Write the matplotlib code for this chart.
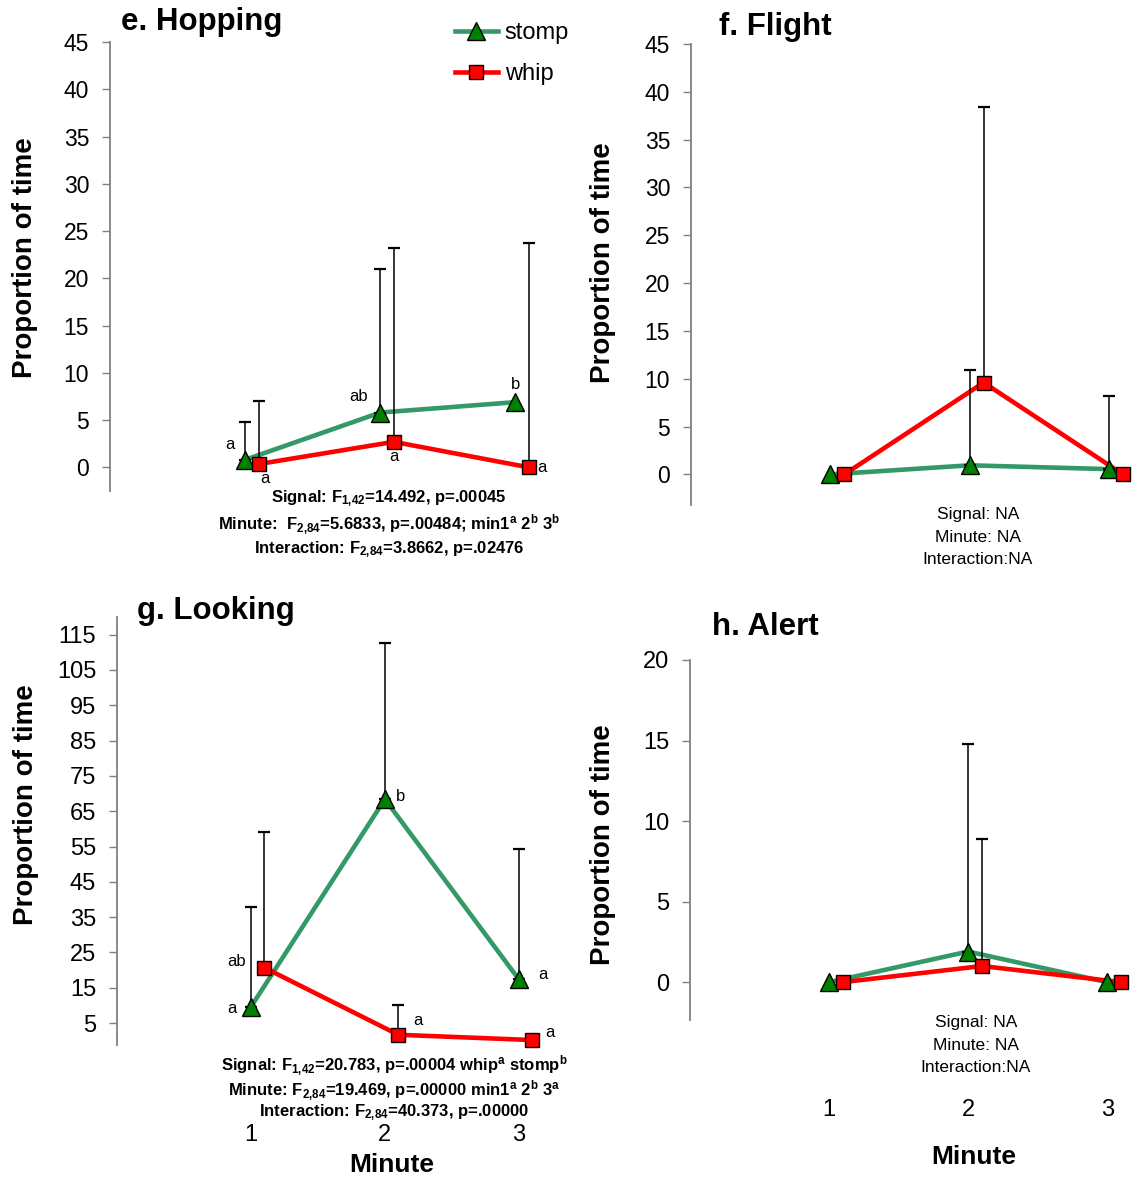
import numpy as np
import matplotlib
matplotlib.use('Agg')
import matplotlib.pyplot as plt
from matplotlib.lines import Line2D

plt.rcParams['font.family'] = ['Liberation Sans', 'DejaVu Sans']
plt.rcParams['mathtext.default'] = 'regular'

W, H = 1132, 1177

minutes = np.array([1, 2, 3])
whip_shift = 0.1

# e. Hopping
hop_stomp = [0.8, 5.8, 6.9]
hop_stomp_err = [4.0, 15.2, 0.0]
hop_whip = [0.35, 2.7, 0.0]
hop_whip_err = [6.65, 20.5, 23.7]
hop_stomp_letters = ['a', 'ab', 'b']
hop_whip_letters = ['a', 'a', 'a']
hop_stats = ["Signal: F$_{1{,}42}$=14.492, p=.00045",
             "Minute:  F$_{2{,}84}$=5.6833, p=.00484; min1$^{a}$ 2$^{b}$ 3$^{b}$",
             "Interaction: F$_{2{,}84}$=3.8662, p=.02476"]

# f. Flight
fli_stomp = [0.0, 0.95, 0.55]
fli_stomp_err = [0.0, 9.95, 7.65]
fli_whip = [0.0, 9.6, 0.0]
fli_whip_err = [0.0, 28.8, 0.0]
fli_stats = ["Signal: NA", "Minute: NA", "Interaction:NA"]

# g. Looking
look_stomp = [9.6, 68.4, 17.4]
look_stomp_err = [28.4, 44.1, 36.9]
look_whip = [20.7, 1.7, 0.2]
look_whip_err = [38.4, 8.5, 0.0]
look_stomp_letters = ['a', 'b', 'a']
look_whip_letters = ['ab', 'a', 'a']
look_stats = ["Signal: F$_{1{,}42}$=20.783, p=.00004 whip$^{a}$ stomp$^{b}$",
              "Minute: F$_{2{,}84}$=19.469, p=.00000 min1$^{a}$ 2$^{b}$ 3$^{a}$",
              "Interaction: F$_{2{,}84}$=40.373, p=.00000"]

# h. Alert
alert_stomp = [0.0, 1.9, 0.0]
alert_stomp_err = [0.0, 12.9, 0.0]
alert_whip = [0.0, 1.0, 0.0]
alert_whip_err = [0.0, 7.9, 0.0]
alert_stats = ["Signal: NA", "Minute: NA", "Interaction:NA"]

STOMP_LINE = '#339966'
STOMP_FACE = '#008000'
WHIP = '#ff0000'

fig = plt.figure(figsize=(W / 100, H / 100), dpi=100)


def make_ax(left, top, right, bottom):
    return fig.add_axes([left / W, 1 - bottom / H, (right - left) / W, (bottom - top) / H])


def ftext(x, y, s, **kw):
    fig.text(x / W, 1 - y / H, s, **kw)


def draw_panel(ax, stomp, stomp_err, whip, whip_err, ylim, yticks, xmax, tsize):
    xs = minutes
    xw = minutes + whip_shift
    ax.plot(xs, stomp, color=STOMP_LINE, lw=3.3, zorder=2, clip_on=False)
    ax.plot(xw, whip, color=WHIP, lw=3.3, zorder=2, clip_on=False)
    for x, y, e in list(zip(xs, stomp, stomp_err)) + list(zip(xw, whip, whip_err)):
        if e > 0:
            ax.errorbar([x], [y], yerr=[[0], [e]], fmt='none', ecolor='black',
                        elinewidth=1.1, capsize=4.5, capthick=1.6, zorder=3, clip_on=False)
    ax.plot(xs, stomp, ls='none', marker='^', ms=13, mfc=STOMP_FACE, mec='black',
            mew=1, zorder=4, clip_on=False)
    ax.plot(xw, whip, ls='none', marker='s', ms=10, mfc=WHIP, mec='black',
            mew=1, zorder=4, clip_on=False)
    ax.set_xlim(0, xmax)
    ax.set_ylim(*ylim)
    ax.set_yticks(yticks)
    for s in ['top', 'right', 'bottom']:
        ax.spines[s].set_visible(False)
    ax.spines['left'].set_color('#808080')
    ax.spines['left'].set_linewidth(1.3)
    ax.tick_params(axis='y', direction='out', length=6, width=1, color='#808080',
                   labelsize=tsize, pad=9)
    ax.tick_params(axis='x', length=0, labelsize=17, pad=57)
    ax.set_xticks([])
    ax.patch.set_visible(False)


def letters(ax, xs, ys, labs, offs):
    for x, y, t, (dx, dy) in zip(xs, ys, labs, offs):
        ax.annotate(t, (x, y), xytext=(dx * 0.72, -dy * 0.72), textcoords='offset points',
                    ha='center', va='center', fontsize=12)


# e. Hopping
ax_e = make_ax(110, 42, 556, 491)
draw_panel(ax_e, hop_stomp, hop_stomp_err, hop_whip, hop_whip_err,
           (-2.5, 45), range(0, 46, 5), 3.3, 16.5)
letters(ax_e, minutes, hop_stomp, hop_stomp_letters, [(-15, -15), (-22, -16), (0, -18)])
letters(ax_e, minutes + whip_shift, hop_whip, hop_whip_letters, [(6, 14), (0, 15), (13, 0)])

# f. Flight
ax_f = make_ax(691, 44, 1130, 505)
draw_panel(ax_f, fli_stomp, fli_stomp_err, fli_whip, fli_whip_err,
           (-3.2, 45), range(0, 46, 5), 3.15, 16.5)

# g. Looking
ax_g = make_ax(117, 617, 559, 1045)
draw_panel(ax_g, look_stomp, look_stomp_err, look_whip, look_whip_err,
           (-1.2, 120), range(5, 116, 10), 3.3, 17)
ax_g.set_xticks(minutes)
letters(ax_g, minutes, look_stomp, look_stomp_letters, [(-19, 2), (16, -3), (24, -5)])
letters(ax_g, minutes + whip_shift, look_whip, look_whip_letters, [(-28, -6), (20, -14), (18, -8)])

# h. Alert
ax_h = make_ax(690, 660, 1128, 1020)
draw_panel(ax_h, alert_stomp, alert_stomp_err, alert_whip, alert_whip_err,
           (-2.35, 20), range(0, 21, 5), 3.15, 17)
ax_h.set_xticks(minutes)

# titles
title_kw = dict(fontsize=22.5, fontweight='bold', va='center', ha='left')
ftext(121, 22, 'e. Hopping', **title_kw)
ftext(719, 27, 'f. Flight', **title_kw)
ftext(137, 611, 'g. Looking', **title_kw)
ftext(712, 627, 'h. Alert', **title_kw)

# y labels
ylab_kw = dict(fontsize=20, fontweight='bold', rotation=90, ha='center', va='center')
ftext(25, 258, 'Proportion of time', **ylab_kw)
ftext(603, 263, 'Proportion of time', **ylab_kw)
ftext(26, 805, 'Proportion of time', **ylab_kw)
ftext(603, 845, 'Proportion of time', **ylab_kw)

# x labels
ftext(392, 1165, 'Minute', fontsize=19, fontweight='bold', ha='center', va='center')
ftext(974, 1157, 'Minute', fontsize=19, fontweight='bold', ha='center', va='center')

# stats
for i, s in enumerate(hop_stats):
    ftext(389, [499, 525, 550][i], s, fontsize=12, fontweight='bold', ha='center', va='center')
for i, s in enumerate(fli_stats):
    ftext(978, [515, 537, 559][i], s, fontsize=12.5, ha='center', va='center')
for i, s in enumerate(look_stats):
    ftext(394, [1066, 1091, 1113][i], s, fontsize=12, fontweight='bold', ha='center', va='center')
for i, s in enumerate(alert_stats):
    ftext(976, [1023, 1045, 1067][i], s, fontsize=12.5, ha='center', va='center')

# legend
handles = [Line2D([], [], color=STOMP_LINE, lw=3.3, marker='^', ms=13, mfc=STOMP_FACE, mec='black'),
           Line2D([], [], color=WHIP, lw=3.3, marker='s', ms=10, mfc=WHIP, mec='black')]
fig.legend(handles, ['stomp', 'whip'], loc='upper left', bbox_to_anchor=(455 / W, 1 - 22 / H),
           frameon=False, fontsize=17, handlelength=1.8, handletextpad=0.3, labelspacing=0.8,
           borderpad=0, borderaxespad=0)

fig.savefig('out.png', dpi=100)
